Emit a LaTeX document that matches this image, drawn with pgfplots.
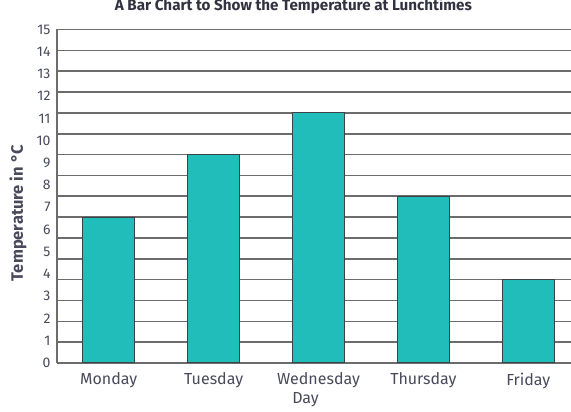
\documentclass[border=0pt]{standalone}
\usepackage{pgfplots}
\pgfplotsset{compat=1.18}
\usepackage{fontspec}
\setmainfont{Fira Sans}
\definecolor{barfill}{RGB}{32,189,186}
\definecolor{baredge}{RGB}{60,66,70}
\definecolor{gridc}{RGB}{108,108,108}
\definecolor{txt}{RGB}{72,74,92}
\definecolor{ttl}{RGB}{50,50,64}
\begin{document}
\begin{tikzpicture}
\begin{axis}[
  at={(0,0)}, anchor=south west,
  scale only axis,
  width=514pt, height=333.5pt,
  xmin=-0.493, xmax=4.407,
  ymin=0, ymax=15,
  axis x line*=bottom, axis y line*=left,
  axis line style={draw=gridc, line width=1.6pt},
  xtick=data,
  xticklabels={Monday,Tuesday,Wednesday,Thursday,Friday},
  x tick label style={font=\fontsize{16}{18}\selectfont, text=txt, yshift=-6pt},
  major x tick style={draw=none},
  ytick={0,1,...,15},
  major y tick style={draw=none},
  y tick label style={font=\fontsize{14}{16}\selectfont, text=txt, xshift=-3pt},
  /pgf/number format/assume math mode=true,
  extra y ticks={0,0.9375,1.875,2.8125,3.75,4.6875,5.625,6.5625,7.5,8.4375,9.375,10.3125,11.25,12.1875,13.125,14.0625,15},
  extra y tick labels={},
  extra y tick style={grid=major, tick align=outside, major tick length=4pt,
    major tick style={draw=gridc, line width=1.6pt}},
  major grid style={draw=gridc, line width=1.6pt},
  title={A Bar Chart to Show the Temperature at Lunchtimes},
  title style={at={(axis description cs:0.46,1)}, anchor=center, yshift=17.5pt,
    font=\bfseries\fontsize{15.2}{17}\selectfont, text=ttl},
  xlabel={Day},
  xlabel style={at={(axis description cs:0.4835,0)}, anchor=center, yshift=-37pt,
    font=\fontsize{16}{18}\selectfont, text=txt},
  ylabel={Temperature in °C},
  ylabel style={at={(axis description cs:-0.0759,0.45)}, anchor=center,
    font=\bfseries\fontsize{16.5}{18}\selectfont, text=txt},
]
\addplot[ybar, bar width=52pt, fill=barfill, draw=baredge, line width=1.1pt]
  coordinates {(0,6.5625) (1,9.375) (2,11.25) (3,7.5) (4,3.75)};
\end{axis}
\pgfresetboundingbox
\path (-57pt,-49pt) rectangle (514pt,363pt);
\end{tikzpicture}
\end{document}
